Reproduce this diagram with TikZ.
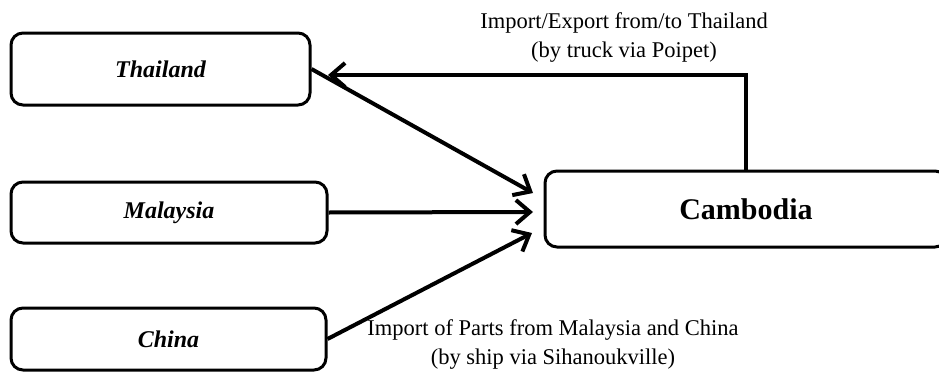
\documentclass[tikz,border=0pt]{standalone}
\usepackage{fontspec}
\setmainfont{Liberation Serif}
\usetikzlibrary{arrows.meta}
\begin{document}
\begin{tikzpicture}[x=1pt,y=-1pt,
  country/.style={draw,line width=3pt,rounded corners=12pt,inner sep=0pt,
    font=\fontsize{24}{28}\selectfont\bfseries\itshape},
  flow/.style={line width=4pt,-{Straight Barb[length=14pt,width=24pt,line width=4pt]}},
  caption/.style={align=center,font=\fontsize{22.5}{29}\selectfont}]
\useasboundingbox (0,0) rectangle (939,372);

% trading partners
\node[country,minimum width=299pt,minimum height=72pt] (thai) at (160.5,69) {Thailand};
\node[country,minimum width=316pt,minimum height=61pt] (malay) at (169,212.5) {Malaysia};
\node[country,minimum width=315pt,minimum height=62pt] (china) at (168.5,339) {China};

% destination
\node[country,minimum width=402pt,minimum height=76pt,
  font=\fontsize{30}{34}\selectfont\bfseries] (camb) at (746,209) {Cambodia};

% arrow tips in front of Cambodia
\coordinate (tipT) at (533,193);
\coordinate (tipM) at (533,212);
\coordinate (tipC) at (532,233);
\coordinate (tipR) at (328,75);

\draw[flow] (thai.east) -- (tipT);
\draw[flow] (malay.east) -- (tipM);
\draw[flow] (china.east) -- (tipC);
\draw[flow] (camb.north) |- (tipR);

% route labels
\node[caption] (lblTop) at (624,38) {Import/Export from/to Thailand\\(by truck via Poipet)};
\node[caption] (lblBot) at (553,345) {Import of Parts from Malaysia and China\\(by ship via Sihanoukville)};
\end{tikzpicture}
\end{document}
